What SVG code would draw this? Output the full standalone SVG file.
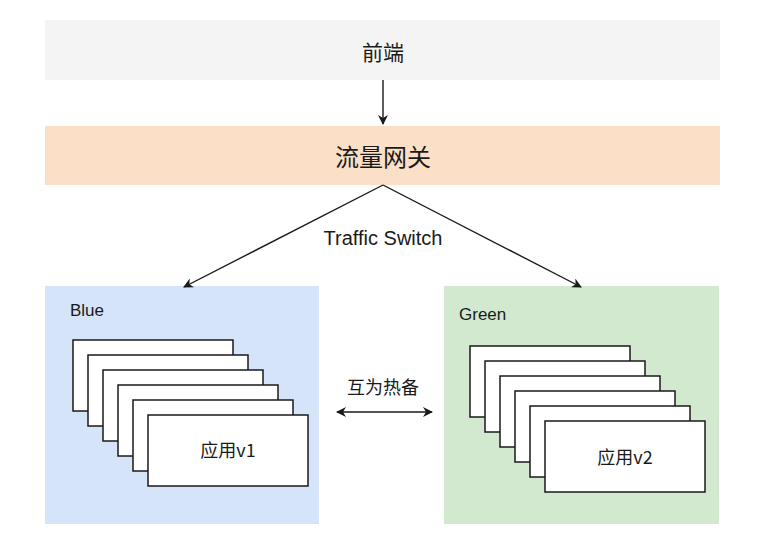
<svg xmlns="http://www.w3.org/2000/svg" width="772" height="553" viewBox="0 0 772 553">
<style>
text{font-family:"Liberation Sans","Noto Sans CJK SC",sans-serif;fill:#1a1a1a}
.cn{font-family:"Noto Sans CJK SC","Liberation Sans",sans-serif}
.app{fill:#ffffff;stroke:#1a1a1a;stroke-width:1.5}
.edge{stroke:#1a1a1a;stroke-width:1.4;fill:none}
</style>
<defs>
<marker id="ah" viewBox="0 0 10 10" refX="9" refY="5" markerWidth="10" markerHeight="10" markerUnits="userSpaceOnUse" orient="auto-start-reverse">
<path d="M0,0 L10,5 L0,10 L3,5 Z" fill="#1a1a1a"/>
</marker>
</defs>
<rect width="772" height="553" fill="#ffffff"/>
<g id="frontend">
<rect x="45" y="20" width="675" height="60" fill="#f4f4f4"/>
<text class="cn" x="383" y="60" font-size="21" text-anchor="middle">前端</text>
</g>
<g id="gateway">
<rect x="45" y="126" width="675" height="59" fill="#fbdfc6"/>
<text class="cn" x="383" y="166" font-size="24" text-anchor="middle">流量网关</text>
</g>
<g id="blue">
<rect x="45" y="286" width="274" height="238" fill="#d5e4f9"/>
<text x="70" y="316" font-size="17">Blue</text>
<rect class="app" x="73" y="340" width="160" height="71"/>
<rect class="app" x="88" y="355" width="160" height="71"/>
<rect class="app" x="103" y="370" width="160" height="71"/>
<rect class="app" x="118" y="385" width="160" height="71"/>
<rect class="app" x="133" y="400" width="160" height="71"/>
<rect class="app" x="148" y="415" width="160" height="71"/>
<text class="cn" x="228" y="457" font-size="18" text-anchor="middle">应用v1</text>
</g>
<g id="green">
<rect x="444" y="286" width="275" height="238" fill="#d2e9d0"/>
<text x="459" y="320" font-size="17">Green</text>
<rect class="app" x="470" y="346" width="160" height="71"/>
<rect class="app" x="485" y="361" width="160" height="71"/>
<rect class="app" x="500" y="376" width="160" height="71"/>
<rect class="app" x="515" y="391" width="160" height="71"/>
<rect class="app" x="530" y="406" width="160" height="71"/>
<rect class="app" x="545" y="421" width="160" height="71"/>
<text class="cn" x="625" y="464" font-size="18" text-anchor="middle">应用v2</text>
</g>
<g id="connectors">
<line class="edge" x1="383" y1="80" x2="383" y2="124" marker-end="url(#ah)"/>
<line class="edge" x1="383" y1="185" x2="184" y2="287" marker-end="url(#ah)"/>
<line class="edge" x1="383" y1="185" x2="581" y2="287" marker-end="url(#ah)"/>
<text x="383" y="245" font-size="20" text-anchor="middle">Traffic Switch</text>
<line class="edge" x1="337" y1="412" x2="432" y2="412" marker-start="url(#ah)" marker-end="url(#ah)"/>
<text class="cn" x="383" y="394" font-size="18" text-anchor="middle">互为热备</text>
</g>
</svg>
